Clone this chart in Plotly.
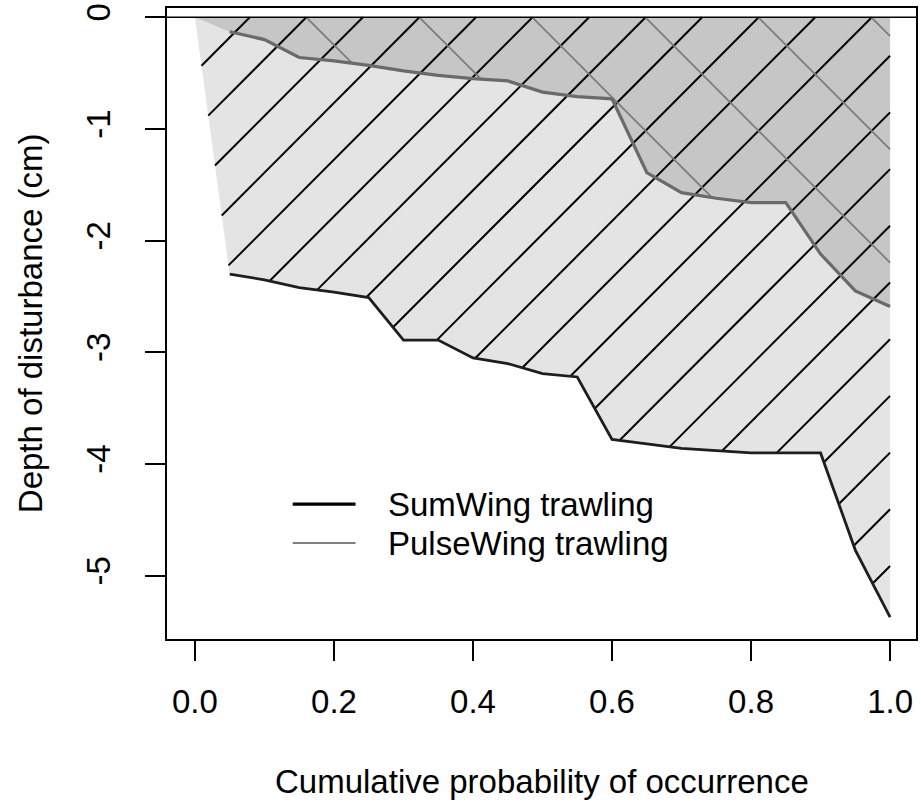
import math
import plotly.graph_objects as go

# Cumulative probability of occurrence (shared x for both gear types)
prob = [0.05, 0.10, 0.15, 0.20, 0.25, 0.30, 0.35, 0.40, 0.45, 0.50,
        0.55, 0.60, 0.65, 0.70, 0.75, 0.80, 0.85, 0.90, 0.95, 1.00]

# Depth of disturbance (cm)
sumwing = [-2.30, -2.35, -2.42, -2.46, -2.51, -2.89, -2.89, -3.05, -3.10, -3.19,
           -3.22, -3.78, -3.82, -3.86, -3.88, -3.90, -3.90, -3.90, -4.77, -5.37]
pulsewing = [-0.13, -0.20, -0.36, -0.39, -0.43, -0.48, -0.52, -0.55, -0.57, -0.67,
             -0.71, -0.73, -1.39, -1.57, -1.62, -1.66, -1.66, -2.12, -2.45, -2.59]

x_ticks = [0.0, 0.2, 0.4, 0.6, 0.8, 1.0]
x_ticktext = ["0.0", "0.2", "0.4", "0.6", "0.8", "1.0"]
y_ticks = [-5, -4, -3, -2, -1, 0]
y_ticktext = ["-5", "-4", "-3", "-2", "-1", "0"]

series_names = ["SumWing trawling", "PulseWing trawling"]

FONT = "Liberation Sans, Arial, sans-serif"

# figure geometry
W, H = 921, 804
MARGIN = dict(l=167, r=3, t=8, b=165)
X_RANGE = [-0.0402, 1.0373]
Y_RANGE = [-5.566, 0.083]
KX = (W - MARGIN["l"] - MARGIN["r"]) / (X_RANGE[1] - X_RANGE[0])  # px per x unit
KY = (H - MARGIN["t"] - MARGIN["b"]) / (Y_RANGE[1] - Y_RANGE[0])  # px per y unit


def polygon(xs, ys):
    """Close the area between the curve and the surface (depth 0)."""
    return [0.0] + list(xs) + [xs[-1]], [0.0] + list(ys) + [0.0]


def hatch(xs, ys, direction, spacing, phase):
    """45-degree (on screen) hatch lines clipped to a polygon.

    direction=+1 draws '/' lines, -1 draws '\\' lines; spacing is the
    horizontal distance between lines in pixels.
    """
    u = [x * KX for x in xs]
    v = [y * KY for y in ys]
    n = len(u)
    vals = [v[i] - direction * u[i] for i in range(n)]
    k0 = math.ceil((min(vals) - phase) / spacing)
    k1 = math.floor((max(vals) - phase) / spacing)
    hx, hy = [], []
    for k in range(k0, k1 + 1):
        c = phase + k * spacing
        pts = []
        for i in range(n):
            j = (i + 1) % n
            a, b = vals[i] - c, vals[j] - c
            if (a > 0) != (b > 0):
                t = a / (a - b)
                pts.append((u[i] + t * (u[j] - u[i]), v[i] + t * (v[j] - v[i])))
        pts.sort()
        for p, q in zip(pts[0::2], pts[1::2]):
            hx += [p[0] / KX, q[0] / KX, None]
            hy += [p[1] / KY, q[1] / KY, None]
    return hx, hy


sx, sy = polygon(prob, sumwing)
px, py = polygon(prob, pulsewing)

fig = go.Figure()

# solid fills
fig.add_trace(go.Scatter(x=sx, y=sy, fill="toself", fillcolor="#e4e4e4",
                         mode="none", hoverinfo="skip", showlegend=False))
fig.add_trace(go.Scatter(x=px, y=py, fill="toself", fillcolor="#c6c6c6",
                         mode="none", hoverinfo="skip", showlegend=False))

# hatching
hx, hy = hatch(sx, sy, +1, 56.7, 1.7)
fig.add_trace(go.Scatter(x=hx, y=hy, mode="lines",
                         line=dict(color="#000000", width=2.0),
                         hoverinfo="skip", showlegend=False))
gx, gy = hatch(px, py, -1, 113.3, -1.6)
fig.add_trace(go.Scatter(x=gx, y=gy, mode="lines",
                         line=dict(color="#7c7c7c", width=1.8),
                         hoverinfo="skip", showlegend=False))

# outlines
fig.add_trace(go.Scatter(x=prob, y=sumwing, mode="lines",
                         line=dict(color="#1e1e1e", width=2.8),
                         name=series_names[0], showlegend=False))
fig.add_trace(go.Scatter(x=prob, y=pulsewing, mode="lines",
                         line=dict(color="#6a6a6a", width=3.2),
                         name=series_names[1], showlegend=False))

# surface line
fig.add_shape(type="line", xref="paper", x0=0, x1=1, yref="y", y0=0, y1=0,
              line=dict(color="black", width=1.5), layer="above")

# legend keys
legend_colors = ["#000000", "#808080"]
legend_widths = [3.2, 2.2]
legend_y = [0.2139, 0.1521]
for name, col, w, ly in zip(series_names, legend_colors, legend_widths, legend_y):
    fig.add_shape(type="line", xref="paper", yref="paper", x0=0.1678, x1=0.2517,
                  y0=ly, y1=ly, line=dict(color=col, width=w), layer="above")
    fig.add_annotation(xref="paper", yref="paper", x=0.2929, y=ly, text=name,
                       showarrow=False, xanchor="left", yanchor="middle",
                       font=dict(family=FONT, size=33, color="black"))

# axis titles
fig.add_annotation(xref="paper", yref="paper", x=0.5, y=-0.2266,
                   text="Cumulative probability of occurrence", showarrow=False,
                   xanchor="center", yanchor="middle",
                   font=dict(family=FONT, size=33, color="black"))
fig.add_annotation(xref="paper", yref="paper", x=-0.182, y=0.5,
                   text="Depth of disturbance (cm)", showarrow=False, textangle=-90,
                   xanchor="center", yanchor="middle",
                   font=dict(family=FONT, size=33, color="black"))

axis_common = dict(showgrid=False, zeroline=False, showline=True, mirror=True,
                   linecolor="black", linewidth=1.5, ticks="outside", ticklen=20,
                   tickwidth=1.5, tickcolor="black",
                   tickfont=dict(family=FONT, size=33, color="black"))

fig.update_xaxes(range=X_RANGE, tickvals=x_ticks, ticktext=x_ticktext,
                 ticklabelstandoff=13, **axis_common)
fig.update_yaxes(range=Y_RANGE, tickvals=y_ticks, ticktext=y_ticktext,
                 tickangle=-90, ticklabelstandoff=22, **axis_common)

fig.update_layout(width=W, height=H, margin=MARGIN,
                  paper_bgcolor="white", plot_bgcolor="white",
                  showlegend=False)

fig.write_html("out.html")
